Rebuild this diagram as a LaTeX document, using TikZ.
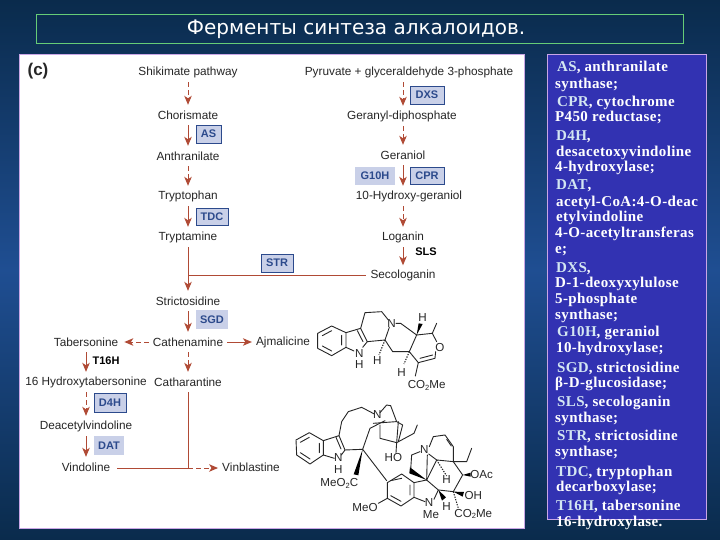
\documentclass[tikz,border=0pt]{standalone}
\usepackage{fontspec}
\setmainfont{Liberation Sans}
\newfontfamily\serifbold[LetterSpace=2.5]{Liberation Serif Bold}
\newfontfamily\titlefont{DejaVu Sans}
\usetikzlibrary{arrows.meta}
\definecolor{rust}{HTML}{B04A35}
\definecolor{lilac}{HTML}{C9A6E6}
\definecolor{enzfill}{HTML}{C9D0E8}
\definecolor{enzink}{HTML}{2C4A8C}
\definecolor{inkc}{HTML}{262626}
\definecolor{panelblue}{HTML}{3232B2}
\definecolor{abbrev}{HTML}{D3E6F2}
\definecolor{bggreen}{HTML}{66CC77}
\definecolor{bgedge}{HTML}{0A2B4C}
\definecolor{bgmid}{HTML}{1F4E92}
\newcommand{\ab}[1]{{\color{abbrev}#1}}
\newcommand{\subtwo}{{\fontsize{7.5}{8}\selectfont\raisebox{-1.5pt}{2}}}
\tikzset{
  cmp/.style={inner sep=0pt,inner xsep=4pt,minimum height=20pt,text=inkc,font=\fontsize{11.8}{12}\selectfont},
  enz/.style={minimum height=0pt,inner sep=0pt,text=enzink,font=\bfseries\fontsize{11}{11}\selectfont,fill=enzfill,anchor=center},
  enzb/.style={enz,draw=enzink,line width=.7pt},
  enzt/.style={inner sep=0pt,text=black,font=\bfseries\fontsize{11}{11}\selectfont},
  arr/.style={draw=rust,line width=1pt,-{Stealth[length=9pt,width=7.5pt,inset=2.5pt]}},
  darr/.style={arr,dash pattern=on 5pt off 3pt},
  lnk/.style={draw=rust,line width=1pt},
  dlnk/.style={lnk,dash pattern=on 5pt off 3pt},
  bond/.style={line width=.9pt,line cap=round,line join=round,draw=inkc},
  wdg/.style={fill=black,draw=none},
  hsh/.style={line width=1.1pt,draw=inkc,dash pattern=on 1.3pt off 1.3pt},
  atom/.style={inner sep=0pt,text=inkc,font=\fontsize{11.6}{12}\selectfont},
  legend/.style={anchor=west,inner sep=0pt,text=white,text height=9pt,text depth=3pt,font=\serifbold\fontsize{15}{16}\selectfont},
}
\begin{document}
\begin{tikzpicture}[x=1pt,y=-1pt]
\useasboundingbox (0,0) rectangle (720,540);
\shade[top color=bgedge,bottom color=bgedge,middle color=bgmid] (0,0) rectangle (720,540);
% panels
\draw[bggreen,line width=1pt] (36,15) rectangle (683,44);
\node[inner sep=0pt,text=white,font=\titlefont\fontsize{20}{22}\selectfont] (title) at (356,29.5) {Ферменты синтеза алкалоидов.};
\draw[lilac,fill=white,line width=1pt] (19,55) rectangle (524,528);
\draw[lilac,fill=panelblue,line width=1pt] (547,55) rectangle (706,519);
\node[inner sep=0pt,text=black!85,font=\bfseries\fontsize{17}{18}\selectfont] (panelc) at (38,71) {(c)};
% compounds, left
\node[cmp] (shik) at (188,72) {Shikimate pathway};
\node[cmp] (chor) at (188,115) {Chorismate};
\node[cmp] (anth) at (188,156) {Anthranilate};
\node[cmp] (tryp) at (188,196) {Tryptophan};
\node[cmp] (tryt) at (188,237) {Tryptamine};
\node[cmp] (stri) at (188,301) {Strictosidine};
\node[cmp] (cthn) at (188,342) {Cathenamine};
\node[cmp] (cath) at (188,382) {Catharantine};
\node[cmp] (tabe) at (86,342) {Tabersonine};
\node[cmp] (hyta) at (86,382) {16 Hydroxytabersonine};
\node[cmp] (deac) at (86,426) {Deacetylvindoline};
\node[cmp] (vind) at (86,467) {Vindoline};
\node[cmp] (ajma) at (283,342) {Ajmalicine};
\node[cmp] (vinb) at (251,467) {Vinblastine};
% compounds, right
\node[cmp] (pyru) at (409,72) {Pyruvate + glyceraldehyde 3-phosphate};
\node[cmp] (gedp) at (402,116) {Geranyl-diphosphate};
\node[cmp] (gera) at (403,155) {Geraniol};
\node[cmp] (hyge) at (409,196) {10-Hydroxy-geraniol};
\node[cmp] (loga) at (403,237) {Loganin};
\node[cmp] (seco) at (403,275.5) {Secologanin};
% enzymes
\node[enzb,minimum width=25pt,minimum height=18pt] (as) at (208.5,134) {AS};
\node[enzb,minimum width=32pt,minimum height=17pt] (tdc) at (212,216.5) {TDC};
\node[enzb,minimum width=32pt,minimum height=18pt] (str) at (277,263) {STR};
\node[enzb,minimum width=34pt,minimum height=18pt] (dxs) at (427,95) {DXS};
\node[enz,minimum width=40pt,minimum height=18pt] (g10h) at (375,176) {G10H};
\node[enzb,minimum width=34pt,minimum height=17pt] (cpr) at (427,175.5) {CPR};
\node[enz,minimum width=32pt,minimum height=19pt] (sgd) at (212,319.5) {SGD};
\node[enzb,minimum width=32pt,minimum height=19pt] (d4h) at (110,402.5) {D4H};
\node[enz,minimum width=30pt,minimum height=19pt] (dat) at (109,445.5) {DAT};
\node[enzt] (sls) at (426,252) {SLS};
\node[enzt] (t16h) at (106,361) {T16H};
% connectors, left
\coordinate (j1) at (tryt.south |- seco.west);
\coordinate (j2) at (188,468);
\draw[darr] (shik.south) -- (chor.north);
\draw[arr] (chor.south) -- (anth.north);
\draw[darr] (anth.south) -- (tryp.north);
\draw[arr] (tryp.south) -- (tryt.north);
\draw[arr] (tryt.south) -- (stri.north);
\draw[lnk] (j1) -- (seco.west);
\draw[arr] (stri.south) -- (cthn.north);
\draw[darr,shorten >=2pt] (cthn.west) -- (tabe.east);
\draw[arr] (cthn.east) -- (ajma.west);
\draw[darr] (cthn.south) -- (cath.north);
\draw[arr] (tabe.south) -- (hyta.north);
\draw[darr] (hyta.south) -- (deac.north);
\draw[arr] (deac.south) -- (vind.north);
\draw[lnk] (cath.south) -- (j2);
\draw[lnk,shorten <=3pt] (vind.east |- j2) -- (j2);
\draw[darr] (j2) -- (vinb.west |- j2);
% connectors, right
\draw[darr] (pyru.south -| gera.north) -- (gedp.north -| gera.north);
\draw[darr] (gedp.south -| gera.south) -- (gera.north);
\draw[arr] (gera.south) -- (hyge.north -| gera.south);
\draw[darr] (hyge.south -| loga.north) -- (loga.north);
\draw[arr] (loga.south) -- (seco.north);
% Ajmalicine, drawn in the 3x grid of its crop
\begin{scope}[shift={(270,290)},x=.3333pt,y=-.3333pt]
\draw[bond] (143,130)--(185,108)--(228,128)--(228,172)--(185,197)--(143,175)--cycle;
\draw[bond] (157,137)--(185,122) (215,136)--(215,165) (157,168)--(185,183);
\draw[bond] (228,128)--(272,115)--(292,155)--(278,172) (228,172)--(252,183);
\draw[bond] (262,122)--(279,155);
\draw[bond] (272,115)--(285,68)--(335,65)--(355,90) (378,100)--(392,100)--(440,135)--(418,185)--(368,185)--(345,150)--(292,155);
\draw[bond] (345,150)--(358,112);
\draw[bond] (440,135)--(487,130)--(500,155) (497,185)--(495,205)--(445,218)--(418,185);
\draw[bond] (450,205)--(488,195);
\draw[bond] (487,130)--(500,100);
\draw[wdg] (440,135)--(446,100)--(458,102)--cycle;
\draw[hsh] (345,150)--(327,195);
\draw[hsh] (418,185)--(402,222);
\draw[bond] (445,218)--(436,258);
\node[atom] (an) at (365,100) {N};
\node[atom] (anh) at (268,192) {N};
\node[atom] (ah1) at (268,225) {H};
\node[atom] (ah2) at (322,212) {H};
\node[atom] (ah3) at (395,248) {H};
\node[atom] (ah4) at (458,82) {H};
\node[atom] (ao) at (510,172) {O};
\node[atom] (aco) at (470,287) {CO\subtwo Me};
\end{scope}
% Vinblastine
\begin{scope}[shift={(270,290)},x=.3333pt,y=-.3333pt]
\draw[bond] (78,450)--(118,428)--(160,452)--(160,495)--(120,522)--(80,495)--cycle;
\draw[bond] (91,457)--(118,442) (148,460)--(148,488) (91,488)--(120,507);
\draw[bond] (160,452)--(207,437)--(225,480)--(214,495) (160,495)--(193,505);
\draw[bond] (198,442)--(213,477);
\draw[bond] (207,437)--(215,395)--(235,365)--(275,352)--(313,372);
\draw[bond] (225,480)--(278,478)--(300,415)--(345,392);
\draw[bond] (330,368)--(350,345)--(362,347)--(380,395)--(398,405)--(385,455);
\draw[bond] (310,400)--(378,395);
\draw[bond] (330,405)--(330,445)--(380,458)--(432,430)--(442,405);
\draw[bond] (385,395)--(380,458)--(378,488);
\draw[bond] (278,478)--(350,572);
\draw[wdg] (278,478)--(251,553)--(265,556)--cycle;
\draw[bond] (352,578)--(395,552)--(432,578)--(432,622)--(393,648)--(352,625)--cycle;
\draw[bond] (362,572)--(395,565) (420,585)--(420,615) (362,617)--(393,634);
\draw[bond] (352,625)--(325,640);
\draw[bond] (432,622)--(465,635) (432,578)--(470,570)--(505,600)--(492,628);
\draw[bond] (470,570)--(472,495) (450,485)--(425,495)--(422,540);
\draw[wdg] (470,570)--(420,532)--(418,550)--cycle;
\draw[bond] (478,470)--(490,440)--(525,435)--(550,470)--(550,515)--(500,510)--(476,492);
\draw[bond] (500,510)--(470,570);
\draw[bond] (530,448)--(544,468);
\draw[hsh] (500,510)--(530,558);
\draw[bond] (550,515)--(578,555)--(550,605)--(505,600);
\draw[bond] (550,515)--(590,515)--(605,475);
\draw[wdg] (578,555)--(602,548)--(602,560)--cycle;
\draw[wdg] (550,605)--(582,606)--(578,620)--cycle;
\draw[wdg] (505,600)--(528,622)--(516,632)--cycle;
\draw[hsh] (550,605)--(565,655);
\node[atom] (vn1) at (322,375) {N};
\node[atom] (vn2) at (205,503) {N};
\node[atom] (vh1) at (205,540) {H};
\node[atom] (vmc) at (208,580) {MeO\subtwo C};
\node[atom] (vho) at (370,503) {HO};
\node[atom] (vn3) at (463,480) {N};
\node[atom] (vh2) at (530,570) {H};
\node[atom] (voa) at (635,555) {OAc};
\node[atom] (voh) at (610,617) {OH};
\node[atom] (vmo) at (285,653) {MeO};
\node[atom] (vn4) at (477,637) {N};
\node[atom] (vme) at (483,674) {Me};
\node[atom] (vh3) at (530,650) {H};
\node[atom] (vco) at (610,672) {CO\subtwo Me};
\end{scope}
% legend
\foreach \i/\xx/\yy/\t in {
 1/557/69/{\ab{AS}, anthranilate},
 2/555/86/{synthase;},
 3/557/104/{\ab{CPR}, cytochrome},
 4/555/119/{P450 reductase;},
 5/556/138/{\ab{D4H},},
 6/556/154/{desacetoxyvindoline},
 7/555/169/{4-hydroxylase;},
 8/556/187/{\ab{DAT},},
 9/556/204/{acetyl-CoA:4-O-deac},
 10/556/219/{etylvindoline},
 11/555/234/{4-O-acetyltransferas},
 12/555/250/{e;},
 13/556/269/{\ab{DXS},},
 14/555/284/{D-1-deoxyxylulose},
 15/555/300/{5-phosphate},
 16/555/316/{synthase;},
 17/557/333/{\ab{G10H}, geraniol},
 18/556/349/{10-hydroxylase;},
 19/557/369/{\ab{SGD}, strictosidine},
 20/555/384/{β-D-glucosidase;},
 21/557/403/{\ab{SLS}, secologanin},
 22/555/419/{synthase;},
 23/557/437/{\ab{STR}, strictosidine},
 24/555/453/{synthase;},
 25/556/473/{\ab{TDC}, tryptophan},
 26/556/488/{decarboxylase;},
 27/556/507/{\ab{T16H}, tabersonine},
 28/556/523/{16-hydroxylase.}}
{ \node[legend] (leg\i) at (\xx,\yy) {\t}; }
\end{tikzpicture}
\end{document}
